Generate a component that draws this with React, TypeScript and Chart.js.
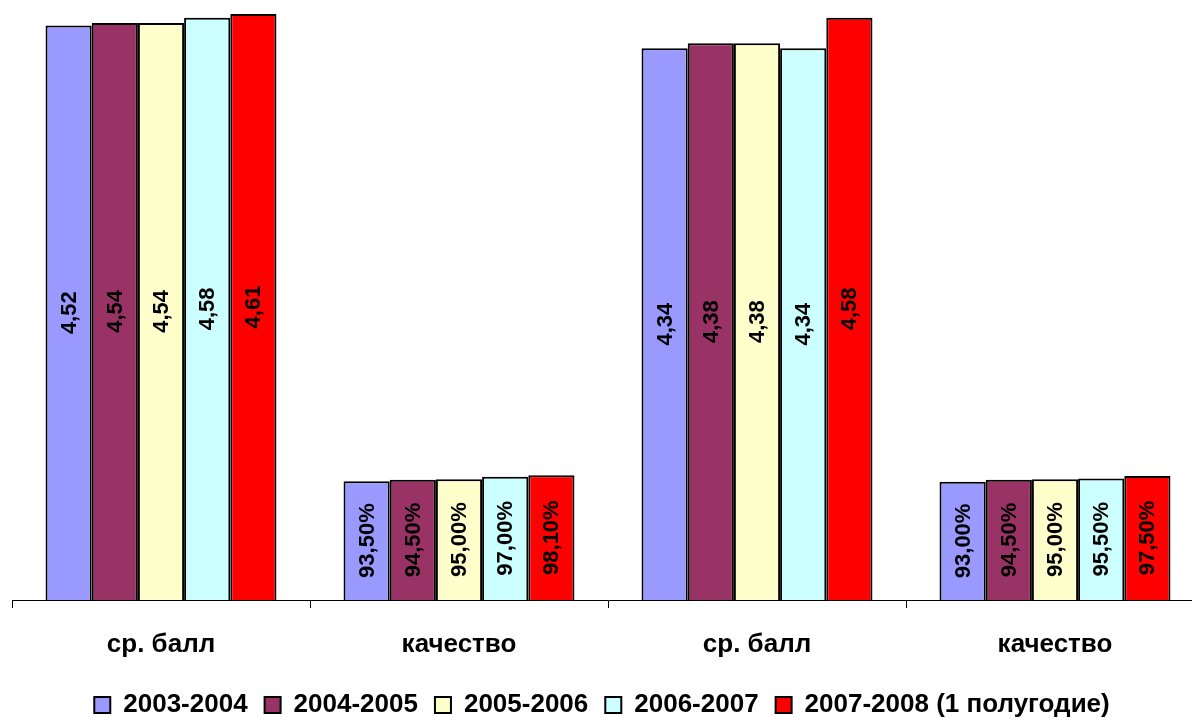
import React, { useEffect, useRef } from "react";
import { Chart, registerables } from "chart.js";

Chart.register(...registerables);

const categories = ["ср. балл", "качество", "ср. балл", "качество"];
const seriesNames = [
  "2003-2004",
  "2004-2005",
  "2005-2006",
  "2006-2007",
  "2007-2008 (1 полугодие)",
];
const s2003 = [4.52, 0.935, 4.34, 0.93];
const s2004 = [4.54, 0.945, 4.38, 0.945];
const s2005 = [4.54, 0.95, 4.38, 0.95];
const s2006 = [4.58, 0.97, 4.34, 0.955];
const s2007 = [4.61, 0.981, 4.58, 0.975];
const percentCategory = [false, true, false, true];
const colors = ["#9999FF", "#993366", "#FFFFCC", "#CCFFFF", "#FF0000"];

const FONT = "'Liberation Sans', Arial, sans-serif";

function formatValue(v: number, idx: number): string {
  if (percentCategory[idx]) {
    return (v * 100).toFixed(2).replace(".", ",") + "%";
  }
  return v.toFixed(2).replace(".", ",");
}

const labelPlugin = {
  id: "verticalLabels",
  afterLayout(chart: any) {
    const lg = chart.legend;
    if (lg) {
      lg.left -= 6;
      lg.right -= 6;
      lg.top += 2;
      lg.bottom += 2;
    }
  },
  afterDatasetsDraw(chart: any) {
    const ctx = chart.ctx;
    ctx.save();
    ctx.font = `bold 22px ${FONT}`;
    ctx.fillStyle = "#000";
    ctx.textAlign = "center";
    ctx.textBaseline = "middle";
    chart.data.datasets.forEach((ds: any, di: number) => {
      const meta = chart.getDatasetMeta(di);
      meta.data.forEach((bar: any, i: number) => {
        const cx = bar.x;
        const cy = (bar.y + bar.base) / 2;
        ctx.save();
        ctx.translate(cx, cy);
        ctx.rotate(-Math.PI / 2);
        ctx.fillText(formatValue(ds.data[i], i), 0, 1);
        ctx.restore();
      });
    });
    ctx.restore();
  },
};

export default function App() {
  const ref = useRef<HTMLCanvasElement>(null);
  useEffect(() => {
    if (!ref.current) return;
    const all = [s2003, s2004, s2005, s2006, s2007];
    const chart = new Chart(ref.current, {
      type: "bar",
      data: {
        labels: categories,
        datasets: all.map((d, i) => ({
          label: seriesNames[i],
          data: d,
          backgroundColor: colors[i],
          borderColor: "#000000",
          borderWidth: 2,
          categoryPercentage: 0.775,
          barPercentage: 1.0,
        })),
      },
      options: {
        responsive: false,
        animation: false,
        layout: { padding: { left: 12, right: 11, top: 0, bottom: 0 } },
        plugins: {
          legend: {
            position: "bottom",
            labels: {
              boxWidth: 16,
              boxHeight: 16,
              padding: 17,
              color: "#000",
              font: { family: FONT, size: 26, weight: "bold", lineHeight: 1 },
            },
          },
          tooltip: { enabled: false },
        },
        scales: {
          x: {
            grid: {
              display: true,
              drawOnChartArea: false,
              drawTicks: true,
              tickLength: 8,
              color: "#000",
              offset: true,
            },
            border: { display: true, color: "#000", width: 1 },
            ticks: {
              color: "#000",
              padding: 21,
              font: { family: FONT, size: 26, weight: "bold" },
              maxRotation: 0,
            },
            afterFit: (scale: any) => {
              scale.height = 73;
            },
          },
          y: {
            display: false,
            min: 0,
            max: 4.72,
          },
        },
      },
      plugins: [labelPlugin],
    });
    return () => chart.destroy();
  }, []);
  return (
    <div
      style={{
        position: "fixed",
        left: 0,
        top: 0,
        width: 1192,
        height: 722,
        overflow: "hidden",
        background: "#fff",
      }}
    >
      <canvas ref={ref} width={1215} height={726} style={{ width: 1215, height: 726, display: "block" }} />
    </div>
  );
}
